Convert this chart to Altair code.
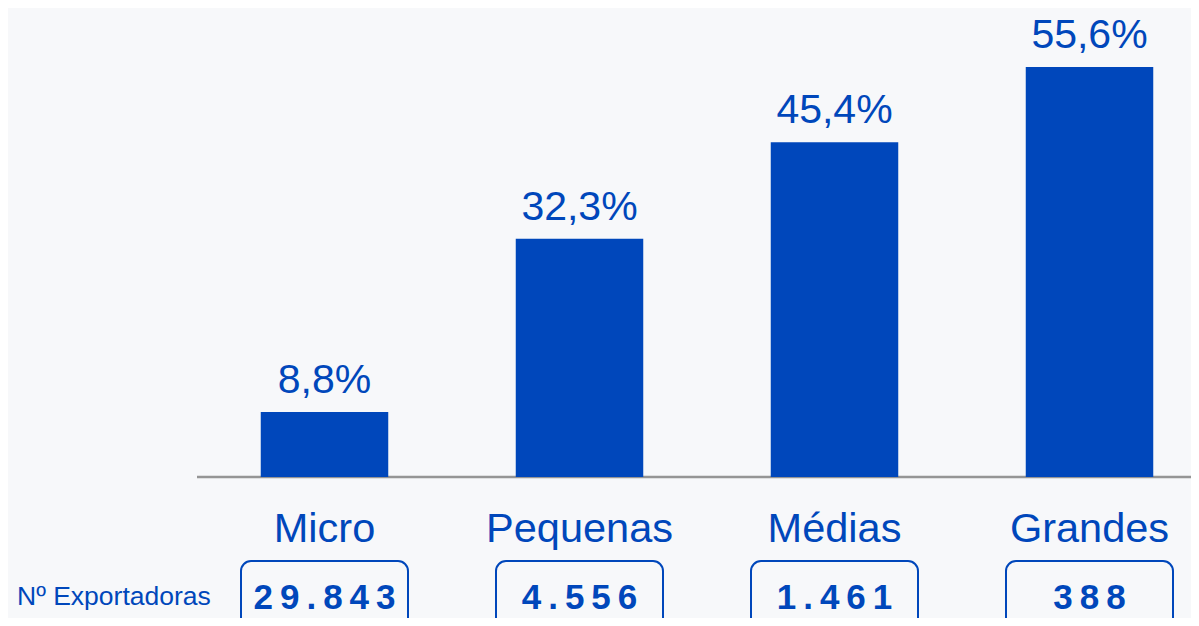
import altair as alt
import pandas as pd

categories = ["Micro", "Pequenas", "Médias", "Grandes"]
shares = [8.8, 32.3, 45.4, 55.6]
exporters = [29843, 4556, 1461, 388]
row_label = ["Nº Exportadoras"]

BLUE = "#0047BB"
BG = "#F7F8FA"
FONT = "Liberation Sans"


def pct(v):
    return f"{v:.1f}".replace(".", ",") + "%"


def thousands(n):
    return f"{n:,}".replace(",", ".")


def spaced(s):
    return "\u2009".join(s)


df = pd.DataFrame({
    "cat": categories,
    "share": shares,
    "share_label": [pct(v) for v in shares],
    "exp_label": [spaced(thousands(n)) for n in exporters],
})
df["zero"] = 0.0
df["box_top"] = -11.4
df["box_bot"] = -26.0
df["exp_y"] = -17.9

xscale = alt.Scale(domain=categories, range=[0, 1020], paddingInner=0.5, paddingOuter=0.25)
yscale = alt.Scale(domain=[-19.12, 63.6], nice=False, zero=False)
X = alt.X("cat:N", scale=xscale, axis=None, sort=categories)


def Y(field):
    return alt.Y(field, type="quantitative", scale=yscale, axis=None)


base = alt.Chart(df)

bars = base.mark_bar(color=BLUE).encode(x=X, y=Y("share"), y2="zero")

value_labels = base.mark_text(
    color=BLUE, font=FONT, fontSize=41, baseline="alphabetic", dy=-19
).encode(x=X, y=Y("share"), text="share_label:N")

axis_line = alt.Chart(pd.DataFrame({"z": [0.0]})).mark_rule(
    color="#959595", strokeWidth=2.5
).encode(y=Y("z"), x=alt.value(0), x2=alt.value(1010))

cat_labels = base.mark_text(
    color=BLUE, font=FONT, fontSize=41.5, baseline="alphabetic", dy=65
).encode(x=X, y=Y("zero"), text="cat:N")

boxes = base.mark_bar(
    width=167, color=BLUE, fillOpacity=0, stroke=BLUE, strokeWidth=2, cornerRadius=10
).encode(x=X, y=Y("box_top"), y2="box_bot")

exp_labels = base.mark_text(
    color=BLUE, font=FONT, fontSize=35, fontWeight="bold", baseline="alphabetic"
).encode(x=X, y=Y("exp_y"), text="exp_label:N")

row_text = alt.Chart(pd.DataFrame({"t": row_label, "ty": [-17.36]})).mark_text(
    color=BLUE, font=FONT, fontSize=26.5, align="left", baseline="alphabetic"
).encode(x=alt.value(-180), y=Y("ty"), text="t:N")

chart = alt.layer(
    axis_line, bars, value_labels, cat_labels, boxes, exp_labels, row_text
).properties(
    width=994,
    height=610,
    autosize=alt.AutoSizeParams(type="none"),
    padding={"left": 189, "right": 0, "top": 0, "bottom": 0},
).configure(background=BG).configure_view(stroke=None)

chart.save("out.html", embed_options={"renderer": "svg", "actions": False})
